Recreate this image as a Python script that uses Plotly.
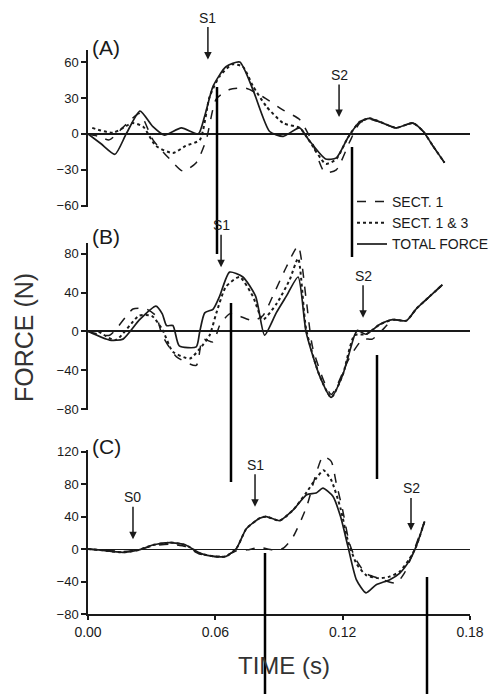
import plotly.graph_objects as go

# ---------------- DATA ----------------
# Panel A
a_tot_t = [0, 0.006, 0.0127, 0.018, 0.0245, 0.0306, 0.036, 0.044, 0.052, 0.055, 0.059, 0.065, 0.0715, 0.0777, 0.0856, 0.092, 0.0997, 0.104, 0.112, 0.117, 0.1225, 0.128, 0.1327, 0.139, 0.1452, 0.153, 0.158, 0.1625, 0.168]
a_tot_f = [0, -8, -17, 0, 19, 6, -1, 5, 0, 15, 40, 56, 60, 37, 2, -2, 5, -5, -21, -20, -3, 10, 13, 9, 5, 9, 2, -10, -24]
a_s1_t = [0, 0.005, 0.010, 0.018, 0.0243, 0.0306, 0.0385, 0.0447, 0.051, 0.0557, 0.0604, 0.0667, 0.0745, 0.0824, 0.0918, 0.0997, 0.1052, 0.1115, 0.117, 0.1232, 0.128, 0.1327, 0.139, 0.1452, 0.153, 0.158, 0.1625, 0.168]
a_s1_f = [0, -2, -5, 8, 17, -5, -21, -31, -24, -5, 29, 37, 38, 31, 20, 12, -5, -32, -30, -7, 9, 12, 9, 5, 9, 2, -10, -24]
a_s13_t = [0.002, 0.0118, 0.021, 0.026, 0.032, 0.040, 0.046, 0.0527, 0.0573, 0.062, 0.068, 0.073, 0.0777, 0.084, 0.092, 0.0997, 0.104, 0.112, 0.117, 0.1225, 0.128, 0.1327, 0.139, 0.1452, 0.153, 0.158, 0.1625, 0.168]
a_s13_f = [5, 1, 9, 6, -10, -16, -10, -5, 31, 48, 58, 56, 40, 23, 9, 5, -5, -25, -21, -3, 10, 13, 9, 5, 9, 2, -10, -24]

# Panel B
b_tot_t = [0, 0.0102, 0.0165, 0.0243, 0.032, 0.035, 0.037, 0.040, 0.043, 0.051, 0.0526, 0.055, 0.059, 0.062, 0.0667, 0.073, 0.079, 0.0832, 0.0887, 0.0934, 0.099, 0.1028, 0.109, 0.1146, 0.120, 0.1256, 0.127, 0.131, 0.1374, 0.1436, 0.150, 0.1546, 0.161, 0.167]
b_tot_f = [0, -9, -8, 12, 26, 18, 6, 6, -15, -16, -1, 19, 23, 36, 61, 56, 36, -4, 19, 36, 56, -1, -45, -68, -45, -4, 1, -3, 7, 12, 11, 23, 36, 48]
b_s1_t = [0, 0.0102, 0.0212, 0.0275, 0.032, 0.035, 0.0416, 0.051, 0.054, 0.059, 0.062, 0.0667, 0.071, 0.0777, 0.0824, 0.087, 0.0934, 0.099, 0.1028, 0.106, 0.1146, 0.123, 0.1295, 0.134, 0.139, 0.1436, 0.150, 0.1546, 0.161, 0.167]
b_s1_f = [0, -4, 23, 23, 16, -4, -26, -35, -8, -11, 6, 18, 16, 11, 16, 36, 66, 88, 33, -18, -65, -28, -8, -8, 2, 12, 11, 23, 36, 48]
b_s13_t = [0.005, 0.013, 0.024, 0.030, 0.035, 0.040, 0.048, 0.0526, 0.0573, 0.0605, 0.065, 0.0714, 0.0777, 0.0824, 0.089, 0.095, 0.099, 0.1028, 0.109, 0.1146, 0.120, 0.1256, 0.131, 0.1374, 0.1436, 0.150, 0.1546, 0.161, 0.167]
b_s13_f = [0, -9, 16, 16, 2, -21, -28, -18, -4, 19, 46, 56, 36, 12, 29, 53, 75, 2, -45, -68, -45, -4, -3, 7, 12, 11, 23, 36, 48]

# Panel C
c_tot_t = [0, 0.005, 0.0165, 0.024, 0.0306, 0.0385, 0.046, 0.0526, 0.059, 0.065, 0.070, 0.0746, 0.0809, 0.084, 0.0903, 0.0966, 0.103, 0.1075, 0.1107, 0.1154, 0.119, 0.1225, 0.1265, 0.131, 0.1358, 0.142, 0.1468, 0.1515, 0.1546, 0.1586]
c_tot_f = [0, -1, -4, -1, 5, 8, 5, -5, -9, -9, 1, 25, 38, 40, 35, 48, 67, 69, 75, 65, 40, 3, -38, -54, -44, -38, -30, -14, 3, 34]
c_s1_t = [0, 0.010, 0.0165, 0.024, 0.0306, 0.0385, 0.046, 0.0526, 0.059, 0.065, 0.070, 0.075, 0.081, 0.087, 0.092, 0.0966, 0.103, 0.1075, 0.1107, 0.1146, 0.117, 0.120, 0.1232, 0.1265, 0.131, 0.137, 0.1452, 0.149, 0.1525, 0.1586]
c_s1_f = [0, -2, -3, -1, 4, 6, 3, -6, -9, -8, -2, -1, 2, -1, 1, 15, 52, 93, 114, 108, 81, 48, 7, -14, -30, -36, -42, -30, -9, 34]
c_s13_t = [0, 0.005, 0.0165, 0.024, 0.0306, 0.0385, 0.046, 0.0526, 0.059, 0.065, 0.070, 0.0746, 0.0809, 0.084, 0.0903, 0.0966, 0.103, 0.1075, 0.111, 0.1146, 0.119, 0.1225, 0.1265, 0.131, 0.137, 0.142, 0.1468, 0.1515, 0.1546, 0.1586]
c_s13_f = [0, -1, -4, -1, 5, 8, 5, -5, -9, -9, 1, 25, 38, 40, 35, 48, 70, 87, 97, 85, 50, 10, -18, -32, -36, -34, -28, -12, 3, 34]

series_names = ["SECT. 1", "SECT. 1 & 3", "TOTAL FORCE"]
panel_labels = ["(A)", "(B)", "(C)"]
a_yticks = [-60, -30, 0, 30, 60]
b_yticks = [-80, -40, 0, 40, 80]
c_yticks = [-80, -40, 0, 40, 80, 120]
x_ticks = [0.00, 0.06, 0.12, 0.18]
x_ticklabels = ["0.00", "0.06", "0.12", "0.18"]

# stimulus markers: (panel, label, time, force at arrow tip)
markers = [
    ("A", "S1", 0.0565, 62), ("A", "S2", 0.1183, 14),
    ("B", "S1", 0.0627, 66), ("B", "S2", 0.1296, 14),
    ("C", "S0", 0.0212, 12), ("C", "S1", 0.0787, 52), ("C", "S2", 0.1522, 23),
]

# ---------------- FIGURE ----------------
OFF = 8                      # page body margin of the browser
W, H = 499 - OFF, 694 - OFF
ML = 88 - OFF
MR = W - ML - 382
FONT = "Liberation Sans"
INK = "#1a1a1a"

fig = go.Figure()
styles = [dict(dash="dash", width=1.5), dict(dash="dot", width=2), dict(dash="solid", width=1.7)]
panels = [
    ("x", "y", [(a_s1_t, a_s1_f), (a_s13_t, a_s13_f), (a_tot_t, a_tot_f)], True),
    ("x2", "y2", [(b_s1_t, b_s1_f), (b_s13_t, b_s13_f), (b_tot_t, b_tot_f)], False),
    ("x3", "y3", [(c_s1_t, c_s1_f), (c_s13_t, c_s13_f), (c_tot_t, c_tot_f)], False),
]
for xa, ya, data, show in panels:
    for (t, f), name, st in zip(data, series_names, styles):
        fig.add_trace(go.Scatter(
            x=t, y=f, mode="lines", name=name, xaxis=xa, yaxis=ya,
            showlegend=show, line=dict(color=INK, width=st["width"], dash=st["dash"],
                                       shape="spline", smoothing=0.6)))


def px_x(px):
    return (px - OFF - ML) / (W - ML - MR)


def px_y(py):
    return 1 - (py - OFF) / H


def ydom(top_px, bot_px):
    return [px_y(bot_px), px_y(top_px)]


yax_common = dict(showline=True, linecolor=INK, linewidth=1.5, ticks="outside",
                  ticklen=5, tickwidth=1.5, tickcolor=INK, showgrid=False,
                  zeroline=True, zerolinecolor=INK, zerolinewidth=1.5,
                  tickfont=dict(size=13, color=INK, family=FONT))
xax_hidden = dict(range=[0, 0.18], visible=False, showgrid=False, zeroline=False)

fig.update_layout(
    width=W, height=H,
    margin=dict(l=ML, r=MR, t=0, b=0, autoexpand=False),
    paper_bgcolor="white", plot_bgcolor="white",
    font=dict(family=FONT, color=INK),
    xaxis=dict(xax_hidden, anchor="y"),
    xaxis2=dict(xax_hidden, anchor="y2"),
    xaxis3=dict(range=[0, 0.18], anchor="y3", showline=True, linecolor=INK, linewidth=1.5,
                ticks="outside", ticklen=4, tickwidth=1.5, tickcolor=INK,
                tickvals=x_ticks, ticktext=x_ticklabels, showgrid=False, zeroline=False,
                tickfont=dict(size=14, color=INK, family=FONT)),
    yaxis=dict(yax_common, domain=ydom(50, 207), range=[-61, 70], tickvals=a_yticks, anchor="x"),
    yaxis2=dict(yax_common, domain=ydom(243, 410), range=[-81, 91], tickvals=b_yticks, anchor="x2"),
    yaxis3=dict(yax_common, domain=ydom(450, 614), range=[-80, 122], tickvals=c_yticks, anchor="x3",
                zerolinewidth=1.2),
    legend=dict(x=px_x(352), y=px_y(186), xanchor="left", yanchor="top",
                bgcolor="rgba(0,0,0,0)", font=dict(size=14, color=INK, family=FONT),
                itemwidth=30, tracegroupgap=0),
)

# panel labels
for lab, py in zip(panel_labels, [47, 237, 447]):
    fig.add_annotation(text=lab, x=px_x(90), y=px_y(py), xref="paper", yref="paper",
                       xanchor="left", yanchor="middle", showarrow=False,
                       font=dict(size=21, color=INK, family=FONT))

# stimulus arrows
axmap = {"A": ("x", "y"), "B": ("x2", "y2"), "C": ("x3", "y3")}
for pan, lab, t, f in markers:
    xr, yr = axmap[pan]
    fig.add_annotation(text=lab, x=t, y=f, xref=xr, yref=yr, showarrow=True,
                       ax=0, ay=-42, arrowhead=2, arrowsize=1, arrowwidth=1.5,
                       arrowcolor=INK, font=dict(size=14, color=INK, family=FONT))

# axis titles
fig.add_annotation(text="FORCE (N)", x=px_x(24), y=px_y(338), xref="paper", yref="paper",
                   xanchor="center", yanchor="middle",
                   textangle=-90, showarrow=False, font=dict(size=25, color="#333", family=FONT))
fig.add_annotation(text="TIME (s)", x=px_x(284), y=px_y(665), xref="paper", yref="paper",
                   xanchor="center", yanchor="middle",
                   showarrow=False, font=dict(size=24, color="#333", family=FONT))

# vertical black lines visible in the reference image
vlines = [(217, 87, 254), (352, 147, 257), (231, 303, 482), (377, 355, 479), (265, 553, 694), (427, 577, 694)]
for xp, y0, y1 in vlines:
    fig.add_shape(type="line", xref="paper", yref="paper", x0=px_x(xp), x1=px_x(xp),
                  y0=px_y(y0), y1=px_y(y1), line=dict(color="black", width=2.5))

fig.write_html("out.html")
